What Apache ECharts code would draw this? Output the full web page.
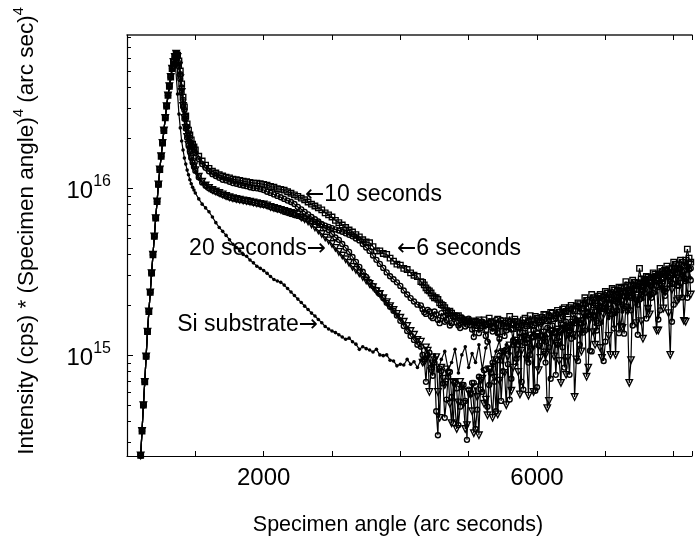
<!DOCTYPE html>
<html>
<head>
<meta charset="utf-8">
<script src="https://cdn.jsdelivr.net/npm/echarts@6/dist/echarts.min.js"></script>
<style>html,body{margin:0;padding:0;background:#fff}#main{width:695px;height:544px}</style>
</head>
<body>
<div id="main"></div>
<script>
// specimen angle (arc seconds), shared by all curves
var angles = [200,220,240,260,280,300,320,340,360,380,
  400,420,440,460,480,500,520,540,560,580,
  600,620,640,660,680,700,720,740,760,780,
  800,820,840,860,880,900,920,940,960,980,
  1000,
  1050,1100,1150,1200,1250,1300,1350,1400,1450,1500,
  1550,1600,1650,1700,1750,1800,1850,1900,1950,2000,
  2050,2100,2150,2200,2250,2300,2350,2400,2450,2500,
  2550,2600,2650,2700,2750,2800,2850,2900,2950,3000,
  3050,3100,3150,3200,3250,3300,3350,3400,3450,3500,
  3550,3600,3650,3700,3750,3800,3850,3900,3950,4000,
  4050,4100,4150,4200,4250,4300,4350,4400,4450,4500,
  4550,4600,4650,4700,4750,4800,4850,4900,4950,5000,
  5050,5100,5150,5200,5250,5300,5350,5400,5450,5500,
  5550,5600,5650,5700,5750,5800,5850,5900,5950,6000,
  6050,6100,6150,6200,6250,6300,6350,6400,6450,6500,
  6550,6600,6650,6700,6750,6800,6850,6900,6950,7000,
  7050,7100,7150,7200,7250,7300,7350,7400,7450,7500,
  7550,7600,7650,7700,7750,7800,7850,7900,7950,8000,
  8050,8100,8150,8200,8250];

// extra readings in the noisy tail, between the ones above
var midAngles = [4325,4375,4425,4475,4525,4575,4625,4675,4725,4775,
  4825,4875,4925,4975,5025,5075,5125,5175,5225,5275,
  5325,5375,5425,5475,5525,5575,5625,5675,5725,5775,
  5825,5875,5925,5975,6025,6075,6125,6175,6225,6275,
  6325,6375,6425,6475,6525,6575,6625,6675,6725,6775,
  6825,6875,6925,6975,7025,7075,7125,7175,7225,7275,
  7325,7375,7425,7475,7525,7575,7625,7675,7725,7775,
  7825,7875,7925,7975,8025,8075,8125,8175,8225];

// common rising edge, 200..700
var rise = [2.5e14,3.5e14,5.0e14,6.9e14,9.8e14,1.38e15,1.82e15,2.37e15,3.09e15,3.98e15,
  5.13e15,6.6e15,8.3e15,1.05e16,1.29e16,1.55e16,1.86e16,2.21e16,2.63e16,3.09e16,
  3.59e16,4.07e16,4.62e16,5.19e16,5.69e16,6.1e16];

// each curve from 720 on
var sec6 = [6.38e16,6.25e16,5.77e16,5.02e16,4.2e16,3.5e16,3.06e16,2.7e16,2.42e16,2.22e16,2.08e16,1.94e16,1.83e16,1.76e16,1.69e16,
  1.55e16,1.45e16,1.37e16,1.31e16,1.26e16,1.23e16,1.2e16,1.18e16,1.16e16,1.15e16,
  1.13e16,1.12e16,1.11e16,1.1e16,1.09e16,1.08e16,1.07e16,1.07e16,1.06e16,1.05e16,
  1.04e16,1.02e16,1.01e16,9.9e15,9.8e15,9.7e15,9.5e15,9.3e15,9.1e15,8.9e15,
  8.7e15,8.5e15,8.24e15,8.0e15,7.8e15,7.6e15,7.4e15,7.1e15,6.9e15,6.7e15,
  6.4e15,6.2e15,6.0e15,5.8e15,5.6e15,5.45e15,5.25e15,5.1e15,4.9e15,4.75e15,
  4.7e15,4.45e15,4.2e15,4.2e15,4.05e15,4.0e15,3.8e15,3.65e15,3.5e15,3.45e15,
  3.3e15,3.25e15,3.1e15,3.0e15,2.95e15,2.75e15,2.63e15,2.45e15,2.35e15,2.2e15,
  2.15e15,2.0e15,1.92e15,1.8e15,1.78e15,1.71e15,1.72e15,1.62e15,1.6e15,1.58e15,
  1.6e15,1.45e15,1.62e15,1.5e15,1.42e15,1.66e15,1.48e15,1.55e15,1.38e15,1.6e15,
  1.47e15,1.7e15,1.44e15,1.58e15,1.36e15,1.62e15,1.5e15,1.72e15,1.52e15,1.66e15,
  1.58e15,1.75e15,1.6e15,1.8e15,1.65e15,1.85e15,1.68e15,1.92e15,1.76e15,1.98e15,
  1.84e15,2.05e15,1.9e15,2.2e15,1.95e15,2.3e15,2.05e15,2.25e15,2.1e15,2.4e15,
  2.2e15,2.5e15,2.3e15,2.55e15,2.4e15,2.75e15,2.45e15,2.8e15,2.6e15,3.3e15,
  2.7e15,2.95e15,2.8e15,3.1e15,2.9e15,3.3e15,3.05e15,3.4e15,3.1e15,3.6e15,
  3.3e15,3.7e15,3.4e15,4.3e15,3.6e15];
var sec6Mid = [2.72e15,2.52e15,2.42e15,2.26e15,2.2e15,2.05e15,1.98e15,1.84e15,1.83e15,1.72e15,
  1.7e15,1.66e15,1.58e15,1.62e15,1.52e15,1.58e15,1.5e15,1.56e15,1.62e15,1.52e15,
  1.58e15,1.45e15,1.64e15,1.5e15,1.55e15,1.6e15,1.52e15,1.64e15,1.48e15,1.55e15,
  1.66e15,1.58e15,1.62e15,1.7e15,1.62e15,1.68e15,1.74e15,1.7e15,1.78e15,1.72e15,
  1.8e15,1.88e15,1.82e15,1.92e15,1.88e15,1.96e15,2.02e15,1.98e15,2.12e15,2.08e15,
  2.2e15,2.15e15,2.3e15,2.22e15,2.35e15,2.3e15,2.45e15,2.4e15,2.5e15,2.55e15,
  2.62e15,2.6e15,2.72e15,2.68e15,2.85e15,2.78e15,2.92e15,2.9e15,3.05e15,3.0e15,
  3.15e15,3.2e15,3.28e15,3.3e15,3.5e15,3.45e15,3.6e15,3.7e15,3.8e15];

var sec10 = [6.38e16,6.15e16,5.6e16,4.8e16,4.0e16,3.37e16,2.93e16,2.6e16,2.32e16,2.13e16,2.0e16,1.86e16,1.76e16,1.69e16,1.62e16,
  1.49e16,1.39e16,1.32e16,1.26e16,1.21e16,1.18e16,1.15e16,1.12e16,1.11e16,1.09e16,
  1.07e16,1.06e16,1.045e16,1.035e16,1.025e16,1.01e16,1.0e16,9.95e15,9.86e15,9.73e15,
  9.5e15,9.34e15,9.15e15,8.96e15,8.8e15,8.6e15,8.4e15,8.24e15,8.02e15,7.7e15,
  7.45e15,7.2e15,6.95e15,6.7e15,6.5e15,6.3e15,6.08e15,5.75e15,5.61e15,5.3e15,
  5.05e15,4.89e15,4.62e15,4.38e15,4.14e15,3.86e15,3.61e15,3.37e15,3.15e15,2.93e15,
  2.74e15,2.59e15,2.45e15,2.32e15,2.19e15,2.05e15,1.94e15,1.84e15,1.72e15,1.6e15,
  1.49e15,1.39e15,1.3e15,1.23e15,1.15e15,1.12e15,9.4e14,1.0e15,8.4e14,9.0e14,
  3.3e14,8.0e14,4.2e14,7.4e14,5.6e14,6.8e14,3.8e14,6.4e14,5.3e14,6.2e14,
  6.8e14,3.6e14,7.4e14,6.0e14,8.2e14,6.6e14,9.0e14,4.6e14,9.9e14,8.0e14,
  1.08e15,5.4e14,1.15e15,9.5e14,1.2e15,6.2e14,1.24e15,1.0e15,1.28e15,6.4e14,
  1.3e15,1.05e15,1.33e15,7.2e14,1.37e15,1.15e15,1.4e15,8.4e14,1.48e15,1.25e15,
  1.55e15,9.2e14,1.62e15,1.4e15,1.72e15,1.05e15,1.82e15,1.55e15,1.92e15,1.2e15,
  2.02e15,1.75e15,2.15e15,1.35e15,2.25e15,1.95e15,2.35e15,1.5e15,2.45e15,2.15e15,
  2.55e15,1.65e15,2.7e15,2.35e15,2.8e15,1.85e15,2.9e15,2.5e15,3.0e15,2.0e15,
  3.1e15,2.7e15,3.2e15,2.2e15,3.3e15];
var sec10Mid = [1.0e15,6.9e14,1.03e15,7.5e14,4.6e14,8.3e14,6.75e14,5.4e14,7.9e14,3.9e14,
  6.3e14,4.9e14,6.6e14,3.1e14,5.8e14,6.8e14,4.7e14,6.2e14,8.1e14,4.9e14,
  7.8e14,6.9e14,9.3e14,5.3e14,1.06e15,8.8e14,7.2e14,1.19e15,1.01e15,6.9e14,
  1.18e15,9.0e14,1.27e15,6.1e14,1.14e15,1.31e15,9.0e14,1.11e15,1.41e15,7.6e14,
  1.28e15,1.11e15,1.44e15,7.6e14,1.34e15,1.62e15,1.15e15,1.36e15,1.79e15,1.06e15,
  1.73e15,1.4e15,1.93e15,9.2e14,1.83e15,2.15e15,1.44e15,1.85e15,2.31e15,1.34e15,
  2.21e15,1.85e15,2.45e15,1.32e15,2.3e15,2.73e15,1.91e15,2.31e15,2.97e15,1.63e15,
  2.84e15,2.26e15,3.1e15,1.58e15,2.83e15,3.29e15,2.21e15,2.77e15,3.28e15];

var sec20 = [6.38e16,6.1e16,5.4e16,4.55e16,3.76e16,3.1e16,2.63e16,2.29e16,2.02e16,1.81e16,1.67e16,1.53e16,1.43e16,1.35e16,1.28e16,
  1.17e16,1.09e16,1.035e16,1.0e16,9.73e15,9.53e15,9.34e15,9.15e15,8.96e15,8.8e15,
  8.68e15,8.6e15,8.5e15,8.43e15,8.36e15,8.28e15,8.19e15,8.1e15,8.02e15,7.96e15,
  7.86e15,7.7e15,7.6e15,7.5e15,7.4e15,7.3e15,7.2e15,7.1e15,7.0e15,6.95e15,
  6.66e15,6.5e15,6.3e15,6.05e15,5.8e15,5.56e15,5.3e15,5.05e15,4.85e15,4.62e15,
  4.38e15,4.14e15,3.94e15,3.74e15,3.56e15,3.37e15,3.23e15,3.08e15,2.93e15,2.79e15,
  2.66e15,2.55e15,2.41e15,2.32e15,2.19e15,2.07e15,1.96e15,1.86e15,1.76e15,1.67e15,
  1.58e15,1.49e15,1.39e15,1.32e15,1.23e15,1.2e15,9.0e14,1.06e15,8.0e14,9.3e14,
  6.0e14,8.4e14,6.6e14,7.7e14,3.9e14,6.9e14,5.2e14,6.5e14,3.6e14,6.0e14,
  4.6e14,6.4e14,3.3e14,7.2e14,5.4e14,8.2e14,4.2e14,9.3e14,7.0e14,1.04e15,
  5.0e14,1.14e15,8.4e14,1.22e15,5.8e14,1.27e15,9.4e14,1.31e15,6.0e14,1.33e15,
  9.6e14,1.36e15,4.8e14,1.39e15,9.8e14,1.42e15,6.8e14,1.43e15,9.6e14,1.5e15,
  5.6e14,1.58e15,1.05e15,1.68e15,8.4e14,1.78e15,1.15e15,1.88e15,9.6e14,1.98e15,
  1.3e15,2.1e15,1.0e15,2.2e15,1.45e15,2.32e15,6.8e14,2.44e15,1.55e15,2.55e15,
  1.25e15,2.68e15,1.75e15,2.8e15,1.4e15,2.92e15,1.9e15,3.02e15,1.0e15,3.1e15,
  2.1e15,3.2e15,1.6e15,3.3e15,2.3e15];
var sec20Mid = [9.0e14,1.11e15,6.0e14,8.9e14,9.7e14,4.2e14,7.2e14,8.2e14,5.1e14,6.8e14,
  3.6e14,6.9e14,5.1e14,3.8e14,5.8e14,3.4e14,5.6e14,7.0e14,5.1e14,4.35e14,
  8.2e14,7.3e14,4.4e14,1.02e15,7.8e14,9.8e14,6.1e14,1.18e15,7.9e14,1.06e15,
  1.29e15,5.7e14,1.08e15,1.28e15,8.1e14,1.24e15,1.0e15,5.3e14,1.38e15,1.17e15,
  9.2e14,1.5e15,7.6e14,1.34e15,1.56e15,9.4e14,1.32e15,1.76e15,7.4e14,1.63e15,
  1.37e15,1.94e15,1.1e15,1.74e15,2.13e15,1.0e15,1.8e15,2.18e15,1.47e15,2.22e15,
  1.82e15,9.3e14,2.57e15,2.19e15,1.59e15,2.82e15,1.89e15,2.55e15,2.87e15,1.4e15,
  2.56e15,3.19e15,1.78e15,2.46e15,3.22e15,2.16e15,2.96e15,1.58e15,3.47e15];

var secOther = [6.38e16,6.05e16,5.35e16,4.5e16,3.72e16,3.08e16,2.6e16,2.27e16,2.0e16,1.8e16,1.66e16,1.52e16,1.42e16,1.34e16,1.27e16,
  1.16e16,1.08e16,1.03e16,9.95e15,9.7e15,9.5e15,9.3e15,9.1e15,8.92e15,8.78e15,
  8.66e15,8.56e15,8.47e15,8.4e15,8.33e15,8.25e15,8.16e15,8.08e15,8.0e15,7.92e15,
  7.83e15,7.68e15,7.57e15,7.47e15,7.37e15,7.2e15,7.1e15,6.99e15,6.89e15,6.8e15,
  6.7e15,6.57e15,6.45e15,6.34e15,6.26e15,6.15e15,6.05e15,5.95e15,5.85e15,5.75e15,
  5.65e15,5.56e15,5.47e15,5.35e15,5.24e15,5.13e15,4.98e15,4.85e15,4.62e15,4.4e15,
  4.2e15,3.94e15,3.71e15,3.51e15,3.32e15,3.12e15,2.96e15,2.84e15,2.72e15,2.59e15,
  2.43e15,2.3e15,2.19e15,2.09e15,2.0e15,1.98e15,1.8e15,1.86e15,1.7e15,1.82e15,
  1.62e15,1.78e15,1.58e15,1.75e15,1.55e15,1.7e15,1.5e15,1.68e15,1.48e15,1.65e15,
  1.42e15,1.6e15,1.35e15,1.58e15,1.3e15,1.55e15,1.38e15,1.62e15,1.25e15,1.52e15,
  1.4e15,1.58e15,1.22e15,1.5e15,1.36e15,1.56e15,1.18e15,1.52e15,1.4e15,1.6e15,
  1.3e15,1.62e15,1.45e15,1.7e15,1.35e15,1.75e15,1.55e15,1.82e15,1.45e15,1.88e15,
  1.65e15,1.95e15,1.55e15,2.02e15,1.8e15,2.1e15,1.7e15,2.2e15,1.95e15,2.28e15,
  1.85e15,2.38e15,2.1e15,2.45e15,2.0e15,2.55e15,2.25e15,2.62e15,2.15e15,2.72e15,
  2.45e15,2.82e15,2.3e15,2.9e15,2.6e15,3.0e15,2.45e15,3.1e15,2.75e15,3.2e15,
  2.6e15,3.3e15,2.9e15,3.4e15,2.8e15];
var secOtherMid = [1.88e15,1.76e15,1.82e15,1.66e15,1.75e15,1.55e15,1.7e15,1.62e15,1.5e15,1.68e15,
  1.56e15,1.45e15,1.64e15,1.52e15,1.58e15,1.28e15,1.6e15,1.45e15,1.55e15,1.2e15,
  1.58e15,1.47e15,1.35e15,1.62e15,1.3e15,1.55e15,1.42e15,1.6e15,1.15e15,1.5e15,
  1.44e15,1.6e15,1.28e15,1.55e15,1.45e15,1.58e15,1.2e15,1.62e15,1.5e15,1.66e15,
  1.38e15,1.7e15,1.58e15,1.4e15,1.75e15,1.6e15,1.82e15,1.48e15,1.9e15,1.75e15,
  1.98e15,1.6e15,2.05e15,1.9e15,2.15e15,1.75e15,2.25e15,2.05e15,2.32e15,1.9e15,
  2.4e15,2.2e15,2.48e15,2.0e15,2.55e15,2.35e15,2.65e15,2.2e15,2.75e15,2.55e15,
  2.85e15,2.4e15,2.95e15,2.7e15,3.05e15,2.6e15,3.15e15,2.85e15,3.25e15];

var siSubstrate = [6.0e16,3.65e16,2.77e16,2.29e16,1.91e16,1.69e16,1.51e16,1.39e16,1.28e16,1.2e16,1.12e16,1.06e16,1.01e16,9.73e15,9.34e15,
  8.6e15,8.0e15,7.6e15,7.2e15,6.7e15,6.2e15,5.8e15,5.5e15,5.2e15,4.9e15,
  4.6e15,4.4e15,4.2e15,4.0e15,3.9e15,3.7e15,3.56e15,3.4e15,3.3e15,3.2e15,
  3.08e15,2.95e15,2.83e15,2.77e15,2.72e15,2.62e15,2.5e15,2.38e15,2.27e15,2.16e15,
  2.06e15,1.96e15,1.87e15,1.78e15,1.71e15,1.63e15,1.56e15,1.48e15,1.43e15,1.39e15,
  1.36e15,1.32e15,1.28e15,1.24e15,1.26e15,1.2e15,1.16e15,1.08e15,1.12e15,1.09e15,
  1.07e15,1.04e15,1.08e15,1.0e15,9.9e14,1.0e15,9.3e14,9.2e14,8.6e14,8.8e14,
  8.7e14,9.4e14,8.8e14,9.1e14,8.4e14,9.3e14,9.6e14,9.8e14,8.6e14,1.0e15,
  8.0e14,9.4e14,1.05e15,8.2e14,9.0e14,1.08e15,7.8e14,1.0e15,1.12e15,8.4e14,
  1.02e15,9.0e14,1.15e15,8.2e14,1.1e15,1.2e15,8.8e14,1.05e15,1.22e15,9.0e14,
  1.15e15,1.02e15,1.26e15,8.8e14,1.2e15,1.3e15,9.6e14,1.22e15,1.1e15,1.32e15,
  1.1e15,1.32e15,1.08e15,1.35e15,1.18e15,1.42e15,1.16e15,1.46e15,1.28e15,1.55e15,
  1.26e15,1.6e15,1.38e15,1.7e15,1.4e15,1.76e15,1.52e15,1.86e15,1.55e15,1.94e15,
  1.65e15,2.05e15,1.75e15,2.15e15,1.8e15,2.25e15,1.95e15,2.35e15,2.0e15,2.45e15,
  2.15e15,2.6e15,2.2e15,2.7e15,2.35e15,2.85e15,2.45e15,2.95e15,2.6e15,3.05e15,
  2.7e15,3.15e15,2.8e15,3.3e15,2.9e15];

var yMinorTicks = [3e14,4e14,5e14,6e14,7e14,8e14,9e14,
  2e15,3e15,4e15,5e15,6e15,7e15,8e15,9e15,
  2e16,3e16,4e16,5e16,6e16,7e16,8e16];
var yMajorTicks = [1e15, 1e16];

var FONT = 'Liberation Sans, Arial, sans-serif';
var ARROW_FONT = 'DejaVu Sans, sans-serif';
var myChart = echarts.init(document.getElementById('main'));

function curve(name, tail, mid, extra) {
  var vals = rise.concat(tail);
  if (vals.length !== angles.length) console.error(name + ' has ' + vals.length + ' values, expected ' + angles.length);
  var pts = angles.map(function (a, i) { return [a, vals[i]]; });
  if (mid) {
    if (mid.length !== midAngles.length) console.error(name + ' mid has ' + mid.length);
    pts = pts.concat(midAngles.map(function (a, i) { return [a, mid[i]]; }));
    pts.sort(function (p, q) { return p[0] - q[0]; });
  }
  var s = {
    name: name,
    type: 'line',
    data: pts,
    showSymbol: true,
    showAllSymbol: true,
    silent: true,
    clip: true,
    lineStyle: { color: '#000', width: 1.2 },
    itemStyle: { color: 'rgba(0,0,0,0)', borderColor: '#000', borderWidth: 1.35 }
  };
  for (var k in extra) s[k] = extra[k];
  return s;
}

function note(x, y, align, parts) {
  return {
    type: 'text', x: x, y: y,
    style: {
      text: parts,
      rich: {
        t: { fontSize: 23, fontFamily: FONT, fill: '#000' },
        a: { fontSize: 23, fontFamily: ARROW_FONT, fill: '#000' }
      },
      textAlign: align, textVerticalAlign: 'middle'
    }
  };
}

myChart.setOption({
  animation: false,
  backgroundColor: '#fff',
  grid: { left: 127, right: 0, top: 35, bottom: 88 },
  xAxis: [{
    type: 'value', position: 'bottom', min: 0, max: 8268, interval: 1000,
    axisLine: { onZero: false, lineStyle: { color: '#000', width: 1.2 } },
    axisTick: { inside: true, length: 5, lineStyle: { color: '#000' } },
    splitLine: { show: false },
    axisLabel: {
      margin: 10, fontSize: 24, fontFamily: FONT, color: '#000',
      formatter: function (v) { return (v === 2000 || v === 6000) ? String(v) : ''; }
    }
  }, {
    type: 'value', position: 'top', min: 0, max: 8268, interval: 1000,
    axisLine: { onZero: false, lineStyle: { color: '#222', width: 1.5 } },
    axisTick: { inside: true, length: 5, lineStyle: { color: '#000' } },
    splitLine: { show: false },
    axisLabel: { show: false }
  }],
  yAxis: {
    type: 'log', logBase: 10, min: 2.48e14, max: 8.25e16,
    axisLine: { show: true, onZero: false, lineStyle: { color: '#000', width: 1.2 } },
    axisTick: { show: false },
    splitLine: { show: false },
    axisLabel: {
      margin: 16, showMinLabel: false, showMaxLabel: false,
      formatter: function (v) {
        var e = Math.log(v) / Math.LN10;
        if (Math.abs(e - Math.round(e)) > 1e-6) return '';
        return '{b|10}{s|' + Math.round(e) + '}';
      },
      rich: {
        b: { fontSize: 24, fontFamily: FONT, color: '#000', padding: [6, 0, 0, 0] },
        s: { fontSize: 16, fontFamily: FONT, color: '#000', padding: [0, 0, 13, 0] }
      }
    }
  },
  series: [
    curve('Si substrate', siSubstrate, null, { symbol: 'circle', symbolSize: 3.6, itemStyle: { color: '#000', borderWidth: 0 } }),
    curve('other', secOther, secOtherMid, { symbol: 'circle', symbolSize: 5 }),
    curve('20 seconds', sec20, sec20Mid, { symbol: 'triangle', symbolSize: 6.5, symbolRotate: 180 }),
    curve('10 seconds', sec10, sec10Mid, { symbol: 'circle', symbolSize: 5 }),
    curve('6 seconds', sec6, sec6Mid, { symbol: 'rect', symbolSize: 5.5 }),
    {
      type: 'custom', silent: true, clip: false, z: 5,
      data: yMinorTicks.concat(yMajorTicks).map(function (v) { return [0, v]; }),
      encode: { x: 0, y: 1 },
      renderItem: function (params, api) {
        var p = api.coord([api.value(0), api.value(1)]);
        var len = params.dataIndex >= yMinorTicks.length ? 6 : 4;
        var y = Math.round(p[1]) + 0.5;
        return {
          type: 'line',
          shape: { x1: p[0], y1: y, x2: p[0] + len, y2: y },
          style: { stroke: '#000', lineWidth: 1 }
        };
      }
    }
  ],
  graphic: [
    {
      type: 'text', x: 27, y: 231, rotation: Math.PI / 2,
      style: {
        text: '{n|Intensity (cps) * (Specimen angle)}{s|4}{n| (arc sec)}{s|4}',
        rich: {
          n: { fontSize: 22.5, fontFamily: FONT, fill: '#000' },
          s: { fontSize: 14.5, fontFamily: FONT, fill: '#000', padding: [0, 0, 17, 0] }
        },
        textAlign: 'center', textVerticalAlign: 'middle'
      }
    },
    {
      type: 'text', x: 398, y: 525,
      style: { text: 'Specimen angle (arc seconds)', fontSize: 21.5, fontFamily: FONT, fill: '#000',
        textAlign: 'center', textVerticalAlign: 'middle' }
    },
    note(305, 195, 'left', '{a|\u2190}{t|10 seconds}'),
    note(326, 249, 'right', '{t|20 seconds}{a|\u2192}'),
    note(397, 249, 'left', '{a|\u2190}{t|6 seconds}'),
    note(318, 325, 'right', '{t|Si substrate}{a|\u2192}')
  ]
});
</script>
</body>
</html>
